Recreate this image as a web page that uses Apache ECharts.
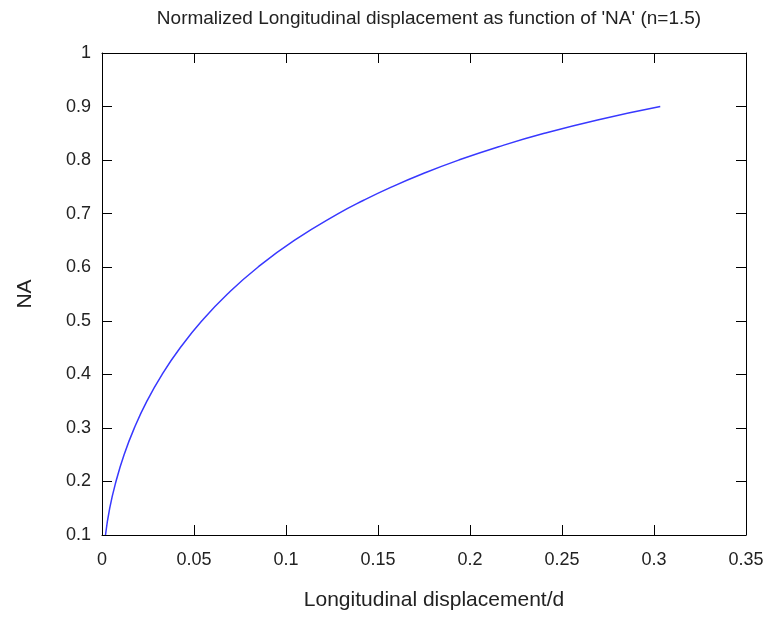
<!DOCTYPE html>
<html lang="en">
<head>
    <meta charset="UTF-8">
    <title>Longitudinal displacement</title>
    <style>
        html, body { margin: 0; padding: 0; width: 100%; height: 100%; background: #fff; }
        #main { width: 771px; height: 617px; }
    </style>
</head>
<body>
    <div id="main"></div>
    <script src="https://cdn.jsdelivr.net/npm/echarts@6/dist/echarts.min.js"></script>
    <script>
        // values
        var na = [0.1, 0.15, 0.2, 0.25, 0.3, 0.35, 0.4, 0.45, 0.5, 0.55, 0.6, 0.65, 0.7, 0.725, 0.75,
            0.775, 0.8, 0.825, 0.85, 0.875, 0.9];
        var displacement = [0.0019, 0.0042, 0.0076, 0.0120, 0.0176, 0.0244, 0.0327, 0.0426, 0.0543,
            0.0682, 0.0847, 0.1045, 0.1284, 0.1422, 0.1575, 0.1746, 0.1938, 0.2156, 0.2404, 0.2693, 0.3034];

        var points = na.map(function (v, i) { return [displacement[i], v]; });

        var font = 'Liberation Sans, Arial, sans-serif';
        // box round the plot: no onZero, or the mirrored axes jump to the left/bottom
        var boxLine = { show: true, onZero: false, lineStyle: { color: '#000', width: 1 } };
        var tick = { show: true, inside: true, length: 10, lineStyle: { color: '#000', width: 1 } };

        var option = {
            backgroundColor: '#fff',
            animation: false,
            title: {
                text: "Normalized Longitudinal displacement as function of 'NA' (n=1.5)",
                left: 424, top: 4, textAlign: 'center',
                textStyle: { fontFamily: font, fontSize: 19, fontWeight: 'normal', color: '#222' }
            },
            grid: { left: 102, right: 25, top: 53, bottom: 82 },
            xAxis: [{
                type: 'value', position: 'bottom', min: 0, max: 0.35, interval: 0.05,
                name: 'Longitudinal displacement/d', nameLocation: 'middle', nameGap: 55,
                nameTextStyle: { fontFamily: font, fontSize: 21, color: '#222', padding: [0, 0, 0, 20] },
                axisLine: boxLine, axisTick: tick, splitLine: { show: false },
                axisLabel: { fontFamily: font, fontSize: 18, color: '#222', margin: 16 }
            }, {
                type: 'value', position: 'top', min: 0, max: 0.35, interval: 0.05,
                axisLine: boxLine, axisTick: tick, splitLine: { show: false },
                axisLabel: { show: false }
            }],
            yAxis: [{
                type: 'value', position: 'left', min: 0.1, max: 1, interval: 0.1,
                name: 'NA', nameLocation: 'middle', nameGap: 66, nameRotate: 90,
                nameTextStyle: { fontFamily: font, fontSize: 21, color: '#222' },
                axisLine: boxLine, axisTick: tick, splitLine: { show: false },
                axisLabel: { fontFamily: font, fontSize: 18, color: '#222', margin: 11 }
            }, {
                type: 'value', position: 'right', min: 0.1, max: 1, interval: 0.1,
                axisLine: boxLine, axisTick: tick, splitLine: { show: false },
                axisLabel: { show: false }
            }],
            series: [{
                type: 'line',
                data: points,
                smooth: true,
                showSymbol: false,
                lineStyle: { color: '#3838ff', width: 1.5 }
            }]
        };

        var myChart = echarts.init(document.getElementById('main'));
        myChart.setOption(option);
    </script>
</body>
</html>
